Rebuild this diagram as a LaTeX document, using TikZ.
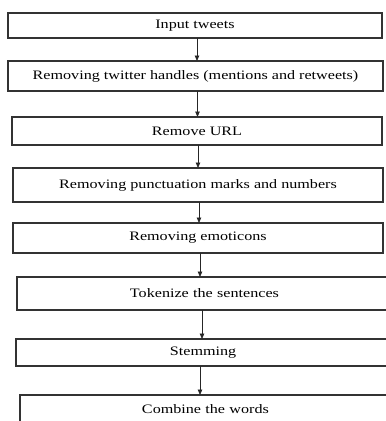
\documentclass[tikz,border=0pt]{standalone}
\usepackage{fontspec}
\setmainfont{Liberation Serif}[FakeStretch=1.25]
\usetikzlibrary{arrows.meta}
\begin{document}
\begin{tikzpicture}[x=1pt,y=-1pt,
  stepbox/.style={draw=black!80,line width=1.1pt,rectangle,inner sep=0pt,outer sep=0pt,
    font=\fontsize{12.9}{14}\selectfont},
  arr/.style={draw=black!85,line width=0.8pt,-{Triangle[length=5.5pt,width=4.5pt]}}]
\useasboundingbox (0,0) rectangle (386,421);
\clip (0,0) rectangle (386,421);
\node[stepbox,minimum width=374pt,minimum height=25pt] (b1) at (195,25.5) {Input tweets};
\node[stepbox,minimum width=375pt,minimum height=30pt] (b2) at (195.5,76) {Removing twitter handles (mentions and retweets)};
\node[stepbox,minimum width=370pt,minimum height=28pt] (b3) at (197,131) {Remove URL};
\node[stepbox,minimum width=370pt,minimum height=34pt] (b4) at (198,185) {Removing punctuation marks and numbers};
\node[stepbox,minimum width=370pt,minimum height=30pt] (b5) at (198,238) {Removing emoticons};
\node[stepbox,minimum width=375pt,minimum height=33pt,text width=367pt,align=left] (b6) at (204.5,293.5) {\hspace{109pt}Tokenize the sentences};
\node[stepbox,minimum width=376pt,minimum height=27pt,text width=368pt,align=left] (b7) at (204,352.5) {\hspace{150pt}Stemming};
\node[stepbox,minimum width=372pt,minimum height=28pt,text width=364pt,align=left] (b8) at (206,409) {\hspace{118pt}Combine the words};
\draw[arr] ([xshift=2pt]b1.south) -- ([xshift=2pt]b1.south |- b2.north);
\draw[arr] ([xshift=2pt]b2.south) -- ([xshift=2pt]b2.south |- b3.north);
\draw[arr] ([xshift=1pt]b3.south) -- ([xshift=1pt]b3.south |- b4.north);
\draw[arr] ([xshift=1pt]b4.south) -- ([xshift=1pt]b4.south |- b5.north);
\draw[arr] ([xshift=2pt]b5.south) -- ([xshift=2pt]b5.south |- b6.north);
\draw[arr] ([xshift=-2.5pt]b6.south) -- ([xshift=-2.5pt]b6.south |- b7.north);
\draw[arr] ([xshift=-4pt]b7.south) -- ([xshift=-4pt]b7.south |- b8.north);
\end{tikzpicture}
\end{document}
